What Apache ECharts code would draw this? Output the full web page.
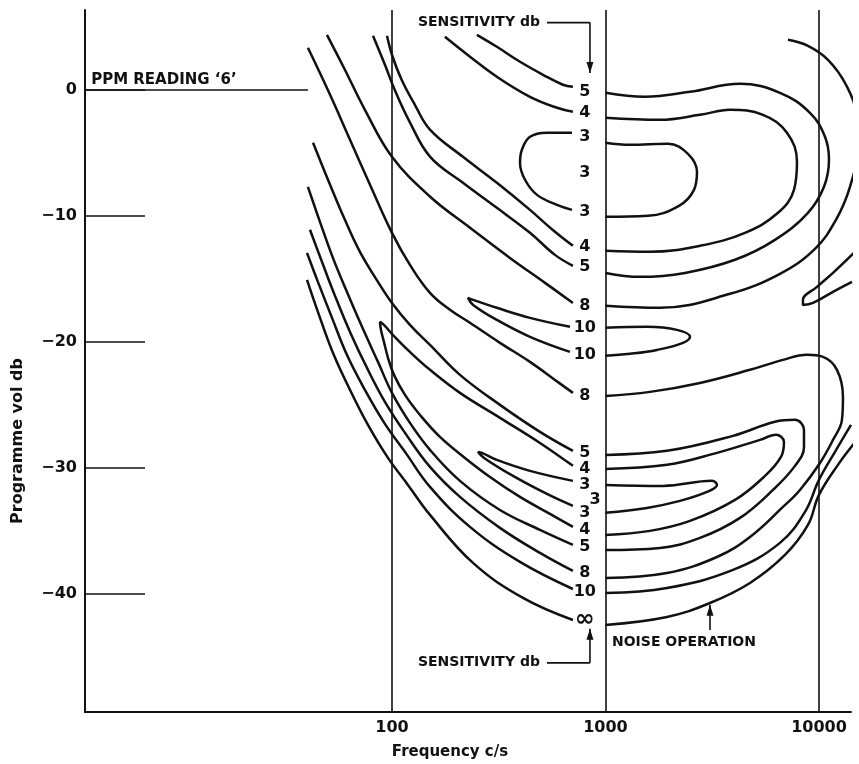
<!DOCTYPE html>
<html>
<head>
<meta charset="utf-8">
<script src="https://cdn.jsdelivr.net/npm/echarts@6/dist/echarts.min.js"></script>
<style>
html,body{margin:0;padding:0;background:#fff}
#chart{width:859px;height:764px}
</style>
</head>
<body>
<div id="chart"></div>
<script>
// Axis extents: frequency in c/s (log scale), programme volume in dB
const FREQ_MIN = 3.65, FREQ_MAX = 14125;
const DB_MIN = -49.4, DB_MAX = 6.3;
const freqTicks = [100, 1000, 10000];
const dbTicks = [0, -10, -20, -30, -40];
const PPM_LINE_END_FREQ = 40.4; // "PPM reading 6" reference level line, 0 dB

// Contour pieces, [frequency c/s, programme vol dB]
// left of the label column
const c5TopL = [[250,4.33],[310,3.38],[398,2.19],[510,1.16],[632,0.37],[704,0.21]];
const c4TopL = [[177,4.17],[232,2.59],[310,1.0],[443,-0.59],[593,-1.46],[704,-1.78]];
const c3TopL = [[697,-3.44],[532,-3.44],[443,-3.76],[406,-4.79],[398,-5.83],[420,-7.17],[478,-8.37],[593,-9.16],[697,-9.56]];
const c4MidL = [[94.8,4.25],[100,2.75],[111,0.76],[128,-1.22],[151,-3.21],[215,-5.35],[310,-7.41],[443,-9.56],[580,-11.3],[704,-12.41]];
const c5MidL = [[81.5,4.25],[92.7,1.95],[103,-0.03],[121,-2.57],[151,-5.35],[215,-7.41],[310,-9.4],[443,-11.38],[580,-13.13],[704,-14.0]];
const c8UpL = [[49.6,4.33],[60.2,1.56],[74.7,-1.62],[100,-5.35],[151,-8.52],[232,-10.98],[357,-13.37],[521,-15.35],[704,-16.94]];
const c10L = [[682,-18.84],[443,-18.13],[310,-17.33],[240,-16.7],[227,-16.54],[240,-17.1],[310,-18.29],[443,-19.63],[682,-20.83]];
const c8LowL = [[40.4,3.30],[51.3,-0.43],[63.6,-4.0],[78.9,-7.57],[100,-11.38],[121.4,-13.92],[150.7,-16.14],[186.9,-17.49],[231.9,-18.52],[320.5,-20.11],[443,-21.62],[580,-23.05],[704,-24.08]];
const c5LowL = [[42.7,-4.24],[51.3,-7.57],[60.2,-10.35],[70.8,-12.89],[86,-15.27],[100,-16.94],[121.4,-18.68],[150.7,-20.27],[208.2,-22.65],[320.5,-25.03],[493.4,-27.17],[704,-28.68]];
const c4LowL = [[704,-29.87],[493.4,-28.05],[320.5,-26.06],[208.2,-24.08],[150.7,-22.25],[121.4,-20.83],[100,-19.4],[91.7,-18.68],[87.9,-18.44],[88.8,-19.08],[91.7,-20.03],[95.8,-21.3],[102.2,-22.65],[115.1,-24.24],[135.3,-25.83],[167.8,-27.57],[219.7,-29.24],[287.8,-30.75],[397.7,-32.33],[549.6,-33.68],[704,-34.71]];
const c3LowL = [[704,-31.06],[443,-30.27],[310,-29.4],[264,-28.84],[253,-28.76],[270,-29.24],[369,-30.67],[532,-32.1],[704,-33.05]];
const c5BotL = [[40.4,-7.73],[46.0,-10.51],[52.9,-13.37],[61.5,-16.06],[72.4,-18.84],[86.0,-21.62],[100,-24.08],[121.4,-26.46],[150.7,-28.6],[208.2,-31.06],[320.5,-33.37],[493.4,-34.95],[704,-36.14]];
const c8BotL = [[41.3,-11.14],[47.0,-13.68],[54.1,-16.38],[63.6,-19.24],[76.4,-22.1],[92.7,-24.79],[115.1,-27.25],[150.7,-29.95],[208.2,-32.33],[320.5,-34.79],[493.4,-36.78],[704,-38.21]];
const c10BotL = [[40.0,-12.97],[45.0,-15.27],[52.4,-18.13],[61.5,-21.06],[74.7,-23.84],[92.7,-26.54],[115.1,-28.76],[150.7,-31.54],[231.9,-34.71],[397.7,-37.49],[704,-39.64]];
const cInfL = [[40.0,-15.11],[45.0,-17.65],[52.9,-20.9],[63.6,-23.84],[77.2,-26.62],[95.8,-29.24],[118.8,-31.38],[150.7,-33.76],[239.6,-37.57],[410.8,-40.35],[704,-42.1]];
// right of the label column
const c5TopR = [[1000,-0.27],[1531,-0.59],[2488,-0.19],[4266,0.44],[6566,-0.27],[9073,-1.86],[10669,-3.76],[11138,-5.59],[10555,-7.73],[8880,-9.79],[6221,-11.94],[4043,-13.52],[2357,-14.56],[1451,-14.87],[1000,-14.56]];
const c4TopR = [[1000,-2.25],[1800,-2.41],[2771,-2.02],[3830,-1.62],[5468,-2.02],[7081,-3.44],[7888,-5.75],[7637,-7.97],[6427,-9.79],[4501,-11.38],[2771,-12.41],[1616,-12.89],[1000,-12.81]];
const c3TopR = [[1000,-4.24],[1302,-4.40],[1962,-4.32],[2434,-5.11],[2683,-6.54],[2597,-7.97],[2209,-9.24],[1582,-10.03],[1000,-10.11]];
const c8UpR = [[1000,-17.17],[1800,-17.33],[3830,-16.22],[6566,-14.63],[9579,-12.65],[12012,-10.35],[13970,-7.73],[15068,-4.79],[14904,-2.02],[13379,0.37],[11020,2.35],[8880,3.46],[7158,3.94]];
const c10R = [[1000,-18.92],[1564,-18.84],[2162,-19.08],[2488,-19.63],[2307,-20.11],[1743,-20.67],[1302,-20.98],[1000,-21.14]];
const cIslandR = [[14746,-12.89],[11632,-14.56],[9786,-15.67],[8414,-16.7],[8414,-17.1],[9374,-16.94],[11632,-16.06],[14277,-15.27]];
const c8LowR = [[1000,-24.32],[1616,-24.0],[2771,-23.29],[4752,-22.25],[6782,-21.46],[8785,-21.06],[10440,-21.22],[12140,-22.25],[12953,-24.4],[12812,-26.22],[11632,-27.81],[10109,-29.64],[8147,-31.78],[6782,-33.13],[4752,-35.51],[3328,-37.1],[1942,-38.37],[1000,-38.76]];
const c5LowR = [[1000,-29.0],[1942,-28.68],[3956,-27.49],[6221,-26.37],[7720,-26.22],[8507,-27.02],[8507,-28.37],[7720,-29.87],[6088,-31.78],[4266,-34.0],[2771,-35.59],[1800,-36.38],[1000,-36.54]];
const c4LowR = [[1000,-30.11],[1942,-29.79],[3328,-28.84],[5292,-27.81],[6289,-27.41],[6855,-27.97],[6637,-29.16],[5587,-30.67],[4043,-32.57],[2488,-34.24],[1616,-35.03],[1000,-35.35]];
const c3LowR = [[1000,-31.38],[1859,-31.46],[3154,-31.06],[3328,-31.38],[2988,-31.94],[2234,-32.65],[1564,-33.21],[1000,-33.6]];
const c10BotR = [[1000,-39.95],[1942,-39.56],[3956,-38.13],[6566,-35.98],[8598,-33.52],[10000,-30.98],[11885,-28.76],[14125,-26.62]];
const cInfR = [[1000,-42.49],[1942,-41.86],[3087,-40.75],[4752,-39.16],[6929,-36.94],[8880,-34.56],[10000,-32.17],[12274,-29.79],[15068,-27.81]];

// Sensitivity figures written along the contours
const labelText = ['5','4','3','3','3','4','5','8','10','10','8','5','4','3','3','3','4','5','8','10','\u221e'];
const labelDb   = [-0.19,-1.86,-3.76,-6.62,-9.71,-12.49,-14.08,-17.17,-18.92,-21.06,-24.32,-28.84,-30.11,-31.38,-32.57,-33.6,-34.95,-36.3,-38.37,-39.87,-42.1];
const labelFreq = [800,800,800,800,800,800,800,800,800,800,800,800,800,800,893,800,800,800,800,800,800];

const contours = [c5TopL,c4TopL,c3TopL,c4MidL,c5MidL,c8UpL,c10L,c8LowL,c5LowL,c4LowL,c3LowL,c5BotL,c8BotL,c10BotL,cInfL,
                  c5TopR,c4TopR,c3TopR,c8UpR,c10R,cIslandR,c8LowR,c5LowR,c4LowR,c3LowR,c10BotR,cInfR];

const INK = '#111';
const FONT = 'DejaVu Sans';
const lg = Math.log10;

const chart = echarts.init(document.getElementById('chart'), null, {renderer:'canvas'});

const series = contours.map(pts => ({
  type: 'line',
  data: pts.map(p => [lg(p[0]), p[1]]),
  smooth: 0.4,
  symbol: 'none',
  clip: false,
  silent: true,
  lineStyle: {color: INK, width: 2.5}
}));

// frequency grid lines and the 0 dB reference line
series.push({
  type: 'line', data: [], symbol: 'none', silent: true,
  markLine: {
    silent: true, symbol: ['none','none'], label: {show:false},
    lineStyle: {color: INK, width: 1.6, type: 'solid'},
    data: freqTicks.map(f => ({xAxis: lg(f)})).concat([[{coord:[lg(FREQ_MIN),0]},{coord:[lg(PPM_LINE_END_FREQ),0]}]])
  }
});

chart.setOption({
  animation: false,
  backgroundColor: '#fff',
  grid: {left: 85, right: 8, top: 10, bottom: 52},
  xAxis: {
    type: 'value', min: lg(FREQ_MIN), max: lg(FREQ_MAX),
    axisLine: {show: true, onZero: false, lineStyle: {color: INK, width: 2}},
    axisTick: {show: false},
    splitLine: {show: false},
    axisLabel: {
      customValues: freqTicks.map(lg),
      formatter: v => String(Math.round(Math.pow(10, v))),
      color: INK, fontFamily: FONT, fontWeight: 'bold', fontSize: 16, margin: 8
    }
  },
  yAxis: {
    type: 'value', min: DB_MIN, max: DB_MAX,
    axisLine: {show: true, onZero: false, lineStyle: {color: INK, width: 2}},
    axisTick: {show: true, inside: true, length: 60, customValues: dbTicks, lineStyle: {color: INK, width: 1.6}},
    splitLine: {show: false},
    axisLabel: {
      customValues: dbTicks,
      formatter: v => v === 0 ? '0' : '\u2212' + Math.abs(v),
      color: INK, fontFamily: FONT, fontWeight: 'bold', fontSize: 16, margin: 8
    }
  },
  series: series
});

// annotations anchored in data coordinates
const sensTop = {corner:[846, 5.3], tip:[846, 1.3]};
const sensBottom = {corner:[846, -45.5], tip:[846, -42.8]};
const noiseArrow = {base:[3087, -42.9], tip:[3087, -40.9]};
const noiseTextAt = [1073, -43.84];
const ppmTextAt = [3.9, 0];

const P = (f, d) => chart.convertToPixel({gridIndex: 0}, [lg(f), d]);
const txt = (x, y, s, align, vAlign, size, extra) => Object.assign({
  type: 'text', x: x, y: y, silent: true,
  style: {text: s, fill: INK, font: 'bold ' + size + 'px "' + FONT + '"', textAlign: align, textVerticalAlign: vAlign}
}, extra || {});
const seg = (a, b) => ({type:'line', silent:true, shape:{x1:a[0],y1:a[1],x2:b[0],y2:b[1]}, style:{stroke:INK, lineWidth:1.6}});
const head = (t, dir) => ({type:'polygon', silent:true,
  shape:{points:[[t[0], t[1]], [t[0]-3.5, t[1]-dir*11], [t[0]+3.5, t[1]-dir*11]]}, style:{fill:INK}});

const tc = P(...sensTop.corner), tt = P(...sensTop.tip);
const bc = P(...sensBottom.corner), bt = P(...sensBottom.tip);
const nb = P(...noiseArrow.base), nt = P(...noiseArrow.tip);
const nx = P(...noiseTextAt), pp = P(...ppmTextAt);

// contour figures placed at their data positions
const figureTexts = labelText.map((t, i) => {
  const p = P(labelFreq[i], labelDb[i]);
  const size = t === '\u221e' ? 24 : 16;
  return txt(p[0], p[1], t, 'center', 'middle', size);
});

chart.setOption({
  graphic: figureTexts.concat([
    txt(tc[0] - 50, tc[1], 'SENSITIVITY db', 'right', 'middle', 14),
    seg([tc[0] - 43, tc[1]], tc), seg(tc, tt), head(tt, 1),
    txt(bc[0] - 50, bc[1], 'SENSITIVITY db', 'right', 'middle', 14),
    seg([bc[0] - 43, bc[1]], bc), seg(bc, bt), head(bt, -1),
    seg(nb, nt), head(nt, -1),
    txt(nx[0], nx[1], 'NOISE OPERATION', 'left', 'middle', 14),
    txt(pp[0], pp[1] - 2, 'PPM READING \u20186\u2019', 'left', 'bottom', 15),
    txt(450, 752, 'Frequency c/s', 'center', 'middle', 15),
    txt(18, 441, 'Programme vol db', 'center', 'middle', 16, {rotation: Math.PI / 2})
  ])
});
</script>
</body>
</html>
